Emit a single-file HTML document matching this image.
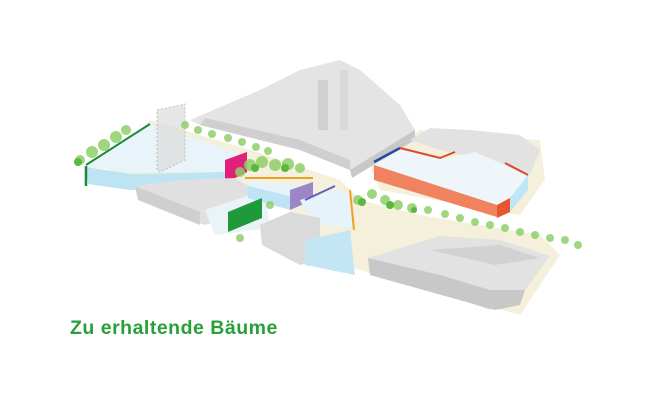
<!DOCTYPE html>
<html><head><meta charset="utf-8"><style>
html,body{margin:0;padding:0;background:#fff;width:655px;height:400px;overflow:hidden}
svg{position:absolute;left:0;top:0}
.t{position:absolute;left:70px;top:317px;font:bold 19.5px "Liberation Sans",sans-serif;color:#27a03a;letter-spacing:0.5px}
</style></head><body>
<svg width="655" height="400" viewBox="0 0 655 400">
<polygon points="95,185 240,195 290,210 300,250 360,270 520,315 560,255 540,235 420,215 360,200 340,180 250,150 150,120" fill="#f4f0dc"/>
<polygon points="370,165 420,130 540,140 545,180 520,215 380,190" fill="#f4f0dc"/>
<polygon points="190,120 260,90 300,70 340,60 360,70 400,105 415,130 350,170 300,150 200,125" fill="#e4e4e4"/>
<polygon points="200,125 300,150 350,170 350,160 300,140 205,118" fill="#cfcfcf"/>
<polygon points="350,170 415,130 415,140 352,178" fill="#c8c8c8"/>
<rect x="318" y="80" width="10" height="50" fill="#d0d0d0"/>
<rect x="340" y="70" width="8" height="60" fill="#d8d8d8"/>
<polygon points="410,140 430,128 470,130 520,135 540,150 530,175 500,165 440,150" fill="#e2e2e2"/>
<polygon points="374,165 400,150 450,158 475,152 528,175 510,210 497,205 374,172" fill="#eef6fa"/>
<polygon points="374,165 497,205 497,217 374,180" fill="#f08260"/>
<polygon points="497,205 510,198 510,212 497,218" fill="#e8552f"/>
<polygon points="510,198 528,175 528,190 510,212" fill="#bfe6f4"/>
<polyline points="374,162 400,148" stroke="#2a4aa0" stroke-width="2.5" fill="none"/>
<polyline points="400,148 440,158 455,152" stroke="#d94a2a" stroke-width="2" fill="none"/>
<polyline points="505,163 528,175" stroke="#d94a2a" stroke-width="2" fill="none"/>
<polygon points="86,167 150,124 245,155 228,172 130,172" fill="#e8f4fa"/>
<polygon points="86,167 130,174 228,172 228,186 130,190 88,184" fill="#bde4f2"/>
<polygon points="225,160 247,152 247,172 225,183" fill="#e0207a"/>
<line x1="86" y1="166" x2="86" y2="186" stroke="#1a8a3a" stroke-width="2.5"/>
<line x1="86" y1="165" x2="150" y2="124" stroke="#1a8a3a" stroke-width="2"/>
<polygon points="157,110 185,104 185,160 160,172 157,170" fill="#dcdcdc" opacity="0.7" stroke="#aaa" stroke-dasharray="2,2"/>
<polygon points="135,186 180,180 235,178 265,196 245,212 205,225 138,200" fill="#e0e0e0"/>
<polygon points="135,186 138,200 200,225 200,212" fill="#cfcfcf"/>
<polygon points="205,210 265,190 270,228 215,235" fill="#eaf4f8"/>
<polygon points="248,180 290,185 313,185 313,195 290,205 248,190" fill="#e6f3fa"/>
<polygon points="248,186 290,196 290,210 248,198" fill="#bfe3f2"/>
<polygon points="290,190 313,182 313,200 290,210" fill="#9b86c8"/>
<line x1="245" y1="178" x2="313" y2="178" stroke="#f0a020" stroke-width="2"/>
<polygon points="300,200 340,188 352,200 352,228 320,225 305,210" fill="#e6f3fa"/>
<line x1="305" y1="200" x2="335" y2="186" stroke="#6a5ab8" stroke-width="2"/>
<line x1="350" y1="190" x2="354" y2="230" stroke="#f0a020" stroke-width="2"/>
<polygon points="260,225 290,212 320,218 320,260 300,265 262,245" fill="#dadada"/>
<polygon points="305,240 350,230 355,275 305,265" fill="#c4e6f4"/>
<polygon points="228,212 262,198 262,218 228,232" fill="#1e9a3a"/>
<polygon points="368,258 440,236 500,240 550,256 525,290 495,300 490,310 440,292 370,275" fill="#e2e2e2"/>
<polygon points="368,258 440,275 490,290 525,290 520,305 495,310 370,275" fill="#c8c8c8"/>
<polygon points="430,250 495,265 540,258 500,245" fill="#d2d2d2"/>
<g fill="#8fd06a" opacity="0.85">
<circle cx="80" cy="160" r="5"/><circle cx="92" cy="152" r="6"/><circle cx="104" cy="145" r="6"/><circle cx="116" cy="137" r="6"/><circle cx="126" cy="130" r="5"/>
<circle cx="185" cy="125" r="4"/><circle cx="198" cy="130" r="4"/><circle cx="212" cy="134" r="4"/><circle cx="228" cy="138" r="4"/><circle cx="242" cy="142" r="4"/>
<circle cx="256" cy="147" r="4"/><circle cx="268" cy="151" r="4"/><circle cx="250" cy="165" r="6"/><circle cx="262" cy="162" r="6"/><circle cx="275" cy="165" r="6"/><circle cx="288" cy="164" r="6"/><circle cx="300" cy="168" r="5"/>
<circle cx="240" cy="172" r="5"/><circle cx="270" cy="205" r="4"/><circle cx="240" cy="238" r="4"/>
<circle cx="358" cy="200" r="5"/><circle cx="372" cy="194" r="5"/><circle cx="385" cy="200" r="5"/><circle cx="398" cy="205" r="5"/><circle cx="412" cy="208" r="5"/><circle cx="428" cy="210" r="4"/>
<circle cx="445" cy="214" r="4"/><circle cx="460" cy="218" r="4"/><circle cx="475" cy="222" r="4"/><circle cx="490" cy="225" r="4"/><circle cx="505" cy="228" r="4"/><circle cx="520" cy="232" r="4"/><circle cx="535" cy="235" r="4"/><circle cx="550" cy="238" r="4"/><circle cx="565" cy="240" r="4"/><circle cx="578" cy="245" r="4"/>
</g>
<g fill="#5bb83e">
<circle cx="78" cy="162" r="4"/><circle cx="255" cy="168" r="4"/><circle cx="285" cy="168" r="4"/><circle cx="362" cy="202" r="4"/><circle cx="390" cy="205" r="4"/><circle cx="414" cy="210" r="3"/>
</g>
</svg>
<div class="t">Zu erhaltende Bäume</div>
</body></html>
